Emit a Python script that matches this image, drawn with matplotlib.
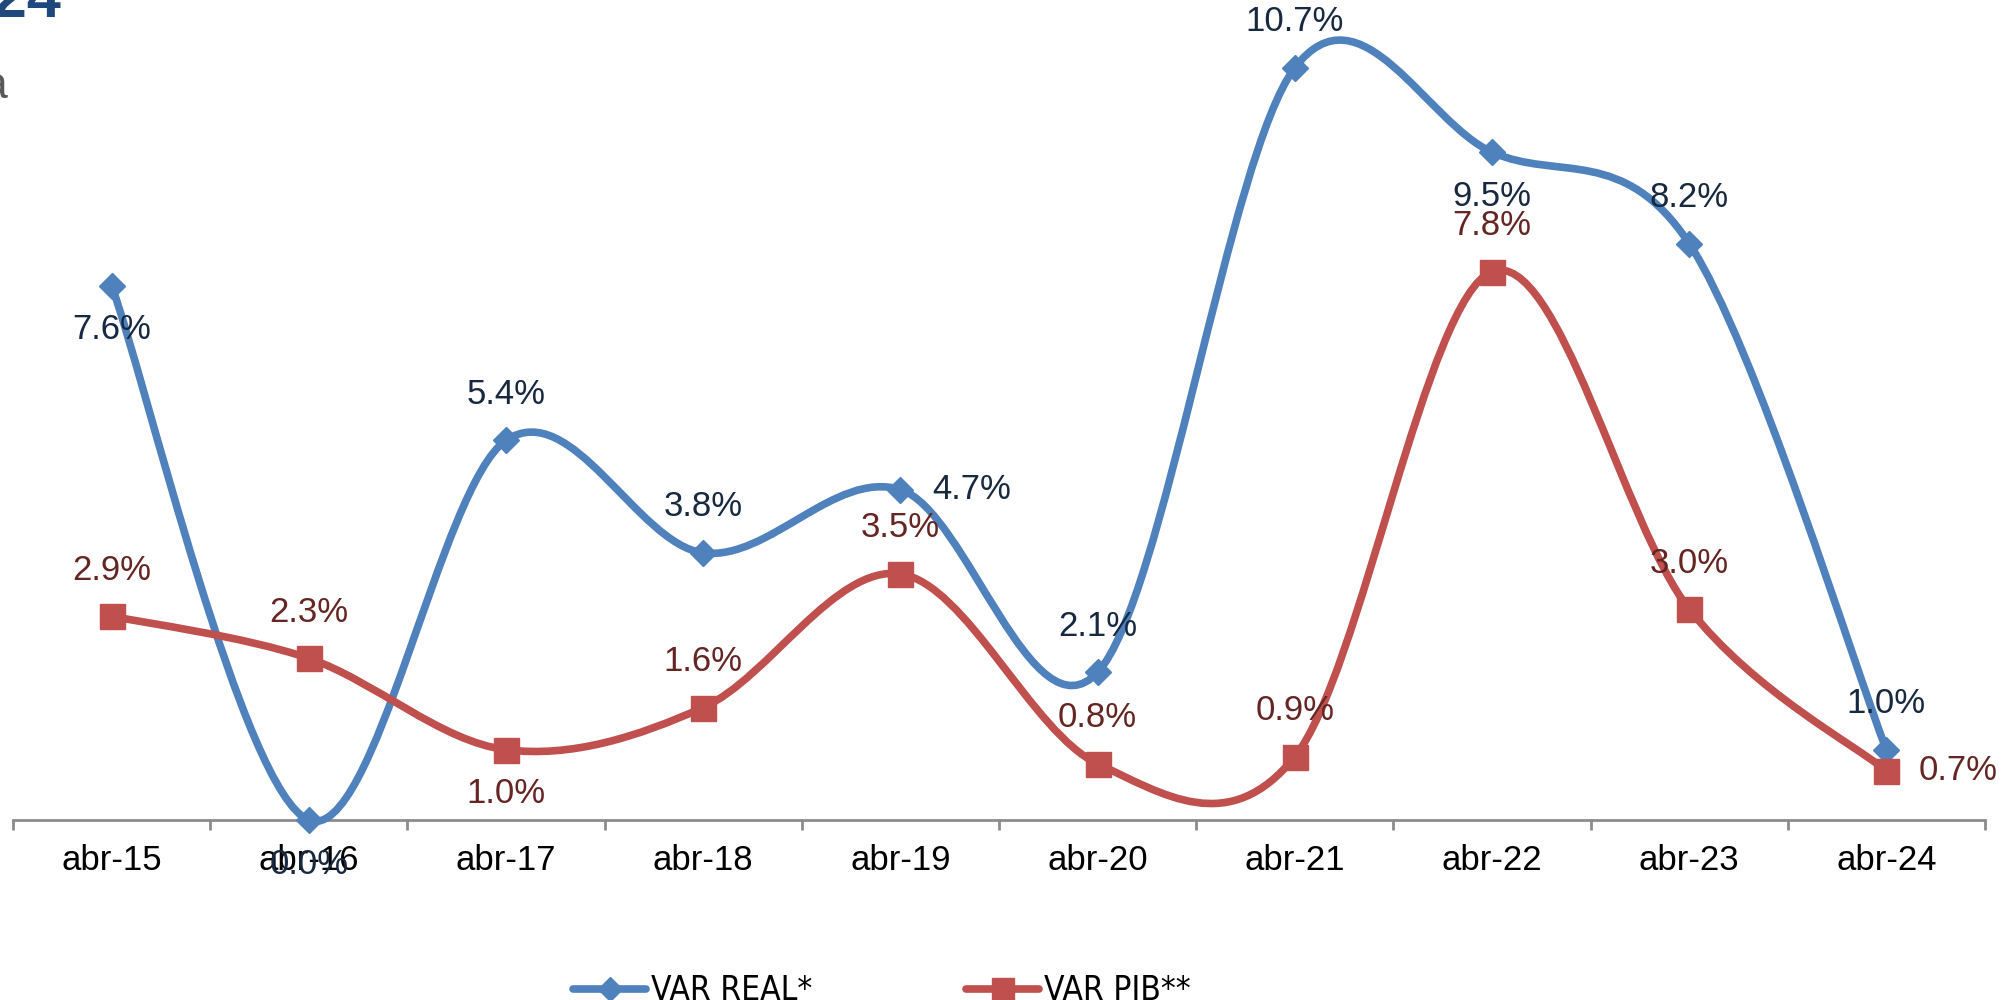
import numpy as np
import matplotlib
matplotlib.use("Agg")
import matplotlib.pyplot as plt
from matplotlib.path import Path
from matplotlib.patches import PathPatch
from matplotlib.lines import Line2D

plt.rcParams["font.family"] = ["Liberation Sans", "DejaVu Sans"]

# -----------------------------
# Data
# -----------------------------
periods = ["abr-15", "abr-16", "abr-17", "abr-18", "abr-19",
           "abr-20", "abr-21", "abr-22", "abr-23", "abr-24"]
var_real = [7.6, 0.0, 5.4, 3.8, 4.7, 2.1, 10.7, 9.5, 8.2, 1.0]
var_pib = [2.9, 2.3, 1.0, 1.6, 3.5, 0.8, 0.9, 7.8, 3.0, 0.7]

# label placement per point (above / below / right of the marker)
real_pos = ["below", "below", "above", "above", "right",
            "above", "above", "below", "above", "above"]
pib_pos = ["above", "above", "below", "above", "above",
           "above", "above", "above", "above", "right"]

BLUE = "#4F81BD"
RED = "#C0504D"
BLUE_TXT = "#17283F"
RED_TXT = "#652523"


def smooth_path(xs, ys):
    # Excel-like smoothed line: cubic bezier segments through the points
    pts = list(zip(xs, ys))
    n = len(pts)
    verts = [pts[0]]
    codes = [Path.MOVETO]
    for i in range(n - 1):
        p0 = pts[i - 1] if i > 0 else pts[i]
        p1 = pts[i]
        p2 = pts[i + 1]
        p3 = pts[i + 2] if i + 2 < n else pts[i + 1]
        c1 = (p1[0] + (p2[0] - p0[0]) / 6, p1[1] + (p2[1] - p0[1]) / 6)
        c2 = (p2[0] - (p3[0] - p1[0]) / 6, p2[1] - (p3[1] - p1[1]) / 6)
        verts += [c1, c2, p2]
        codes += [Path.CURVE4] * 3
    return Path(verts, codes)


fig = plt.figure(figsize=(20.16, 10), dpi=100)
ax = fig.add_axes([13 / 2016, 0.18, 1972 / 2016, 0.82])
x = np.arange(len(periods))

series = [
    (var_real, BLUE, BLUE_TXT, "D", 13.5, real_pos, "VAR REAL*"),
    (var_pib, RED, RED_TXT, "s", 18, pib_pos, "VAR PIB**"),
]

handles = []
for vals, col, tcol, mk, ms, pos, name in series:
    patch = PathPatch(smooth_path(x, vals), facecolor="none", edgecolor=col,
                      lw=5.5, capstyle="round", joinstyle="round",
                      clip_on=False, zorder=3)
    ax.add_patch(patch)
    ax.plot(x, vals, linestyle="none", marker=mk, ms=ms, color=col,
            clip_on=False, zorder=4)
    for xi, v, p in zip(x, vals, pos):
        if p == "above":
            off, ha = (0, 46), "center"
        elif p == "below":
            off, ha = (0, -44), "center"
        else:
            off, ha = (32, 0), "left"
        ax.annotate(f"{v:.1f}%", (xi, v), xytext=off, textcoords="offset pixels",
                    ha=ha, va="center", fontsize=25, color=tcol, zorder=5,
                    annotation_clip=False)
    handles.append(Line2D([], [], color=col, lw=5.5, marker=mk, ms=ms * 0.9,
                          solid_capstyle="round", label=name))

ax.set_xlim(-0.5, len(periods) - 0.5)
ax.set_ylim(0, 820 / 70.3)
ax.set_xticks(x, periods)
ax.set_xticks(np.arange(-0.5, len(periods), 1), minor=True)
ax.tick_params(axis="x", which="major", length=0, pad=17, labelsize=25)
ax.tick_params(axis="x", which="minor", length=7, width=2, color="#8C8C8C",
               direction="out")
ax.set_yticks([])
for s in ["left", "right", "top"]:
    ax.spines[s].set_visible(False)
ax.spines["bottom"].set_color("#8C8C8C")
ax.spines["bottom"].set_linewidth(2)

# title fragments cut at the page edge
fig.text(62 / 2016, 1 - 17 / 1000, "2024", ha="right", va="baseline",
         fontsize=44, fontweight="bold", color="#1F497D")
fig.text(7 / 2016, 1 - 98 / 1000, "a", ha="right", va="baseline",
         fontsize=32, color="#595959")

fig.legend(handles=handles, loc="center", bbox_to_anchor=(0.4375, 0.009),
           ncol=2, frameon=False, handlelength=2.2, handletextpad=0.15,
           columnspacing=4.6,
           prop={"family": "DejaVu Sans", "stretch": "condensed", "size": 24})

fig.savefig("out.png", dpi=100)
